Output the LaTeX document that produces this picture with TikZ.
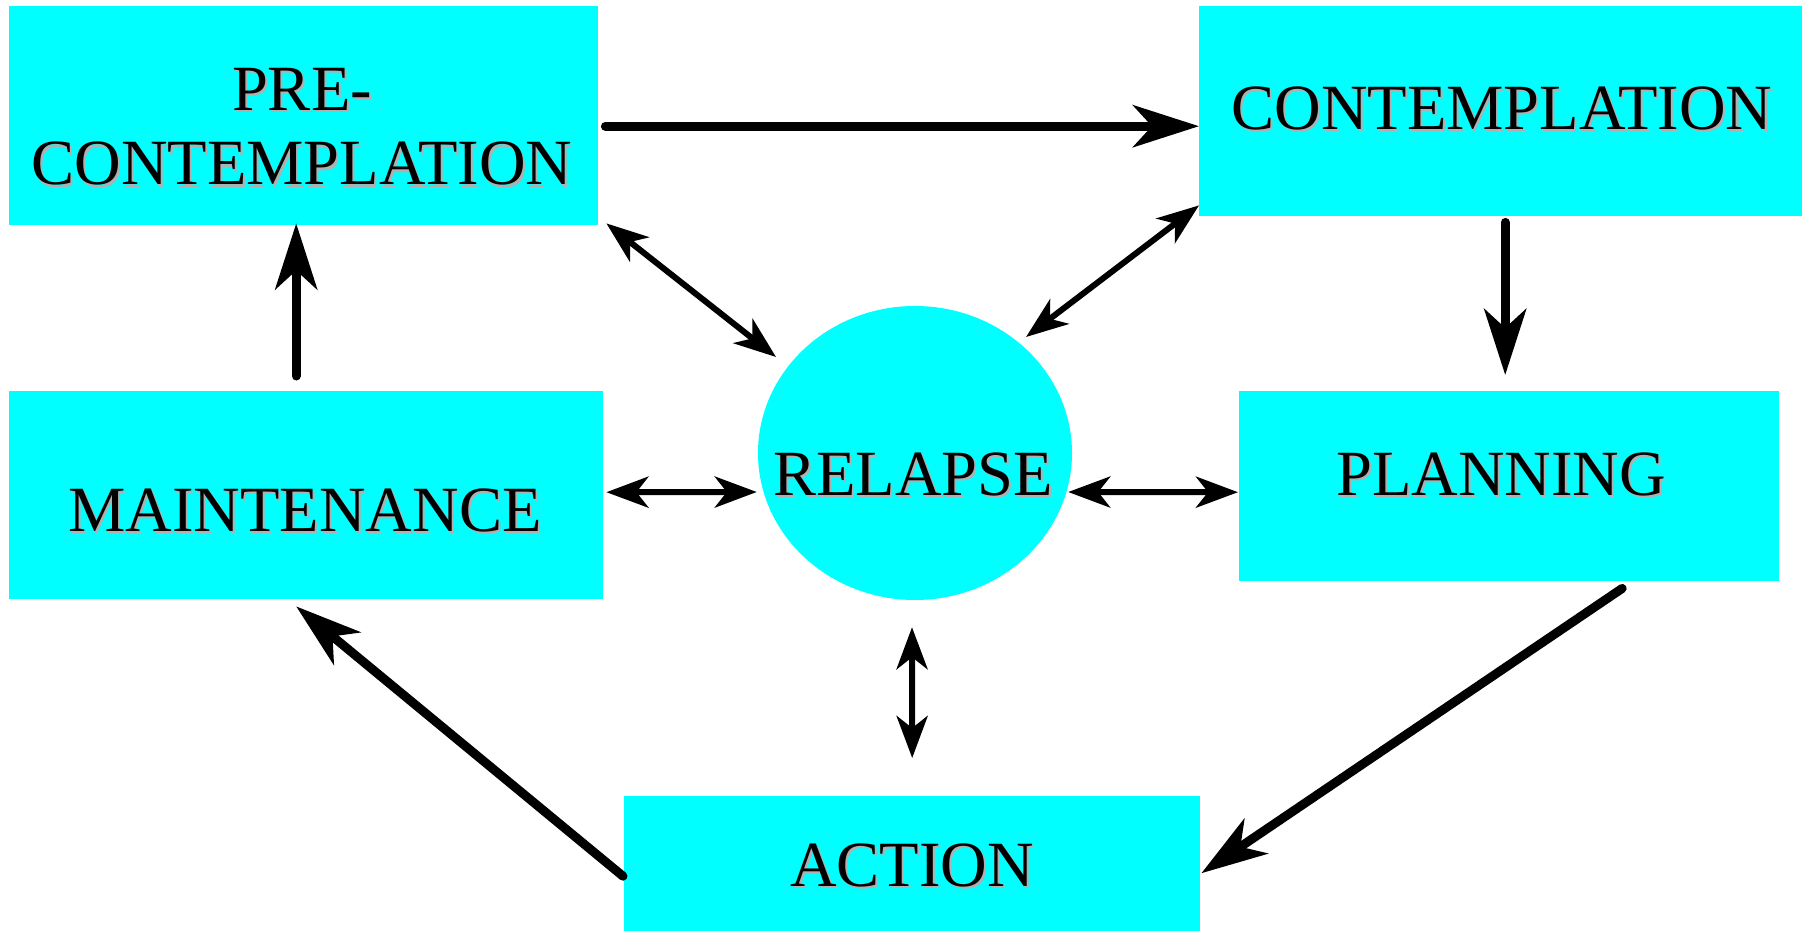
\documentclass[tikz,border=0pt]{standalone}
\usepackage{fontspec}
\setmainfont{Liberation Serif}
\usetikzlibrary{arrows.meta,calc,shapes.geometric}
\definecolor{boxcyan}{RGB}{0,255,255}
\definecolor{shadowgray}{RGB}{176,176,176}
\newcommand\shlabel[4]{%
  \node[lbl,text=shadowgray] (#1s) at (#2+2,#3+2) {#4};
  \node[lbl] (#1) at (#2,#3) {#4};}
\begin{document}
\begin{tikzpicture}[x=1pt,y=-1pt,
  box/.style={fill=boxcyan, draw=none, inner sep=0pt, anchor=north west},
  lbl/.style={anchor=base, inner sep=0pt, font=\fontsize{64.5}{64.5}\selectfont},
  thick/.style={line width=9pt, line cap=round, -{Stealth[length=66pt,width=42pt,inset=19pt]}},
  thin/.style={line width=6pt, {Stealth[length=42pt,width=31pt,inset=12pt]}-{Stealth[length=42pt,width=31pt,inset=12pt]}}]
\useasboundingbox (0,0) rectangle (1802,931);
% boxes
\node[box, minimum width=589pt, minimum height=219pt] (pre) at (9,6) {};
\node[box, minimum width=603pt, minimum height=210pt] (cont) at (1199,6) {};
\node[box, minimum width=594pt, minimum height=208pt] (maint) at (9,391) {};
\node[box, minimum width=540pt, minimum height=190pt] (plan) at (1239,391) {};
\node[box, minimum width=576pt, minimum height=135pt] (action) at (624,796) {};
\node[ellipse, fill=boxcyan, draw=none, inner sep=0pt, minimum width=314pt, minimum height=294pt] (rel) at (915,453) {};
% labels
\shlabel{tpre}{302}{111}{PRE-}
\shlabel{tcontA}{302}{185}{CONTEMPLATION}
\shlabel{tcontB}{1502}{130}{CONTEMPLATION}
\shlabel{tmaint}{305}{531}{MAINTENANCE}
\shlabel{trel}{913}{495}{RELAPSE}
\shlabel{tplan}{1501}{495}{PLANNING}
\shlabel{tact}{912}{886}{ACTION}
% thick cycle arrows
\draw[thick] ($(pre.east)+(7,10.5)$) -- ($(cont.west)+(0,15)$);
\draw[thick] ($(cont.south)+(4.5,6)$) -- ($(plan.north)+(-4,-16)$);
\draw[thick] ($(plan.south)+(113,7)$) -- ($(action.east)+(1,9.5)$);
\draw[thick] ($(action.west)+(-1,12.5)$) -- ($(maint.south)+(-10,7)$);
\draw[thick] ($(maint.north)+(-10,-15)$) -- ($(pre.south)+(-7.5,-2)$);
% thin double arrows to relapse
\draw[thin] ($(pre.south east)+(8,-2)$) -- ($(rel.center)+(-139,-96)$);
\draw[thin] ($(cont.south west)+(0,-11)$) -- ($(rel.center)+(111,-116)$);
\draw[thin] ($(maint.east)+(3,-3)$) -- ($(rel.west)+(-1,39)$);
\draw[thin] ($(rel.east)+(-4,39)$) -- ($(plan.west)+(-1,6)$);
\draw[thin] ($(rel.south)+(-3,27)$) -- ($(action.north)+(0,-38)$);
\end{tikzpicture}
\end{document}
